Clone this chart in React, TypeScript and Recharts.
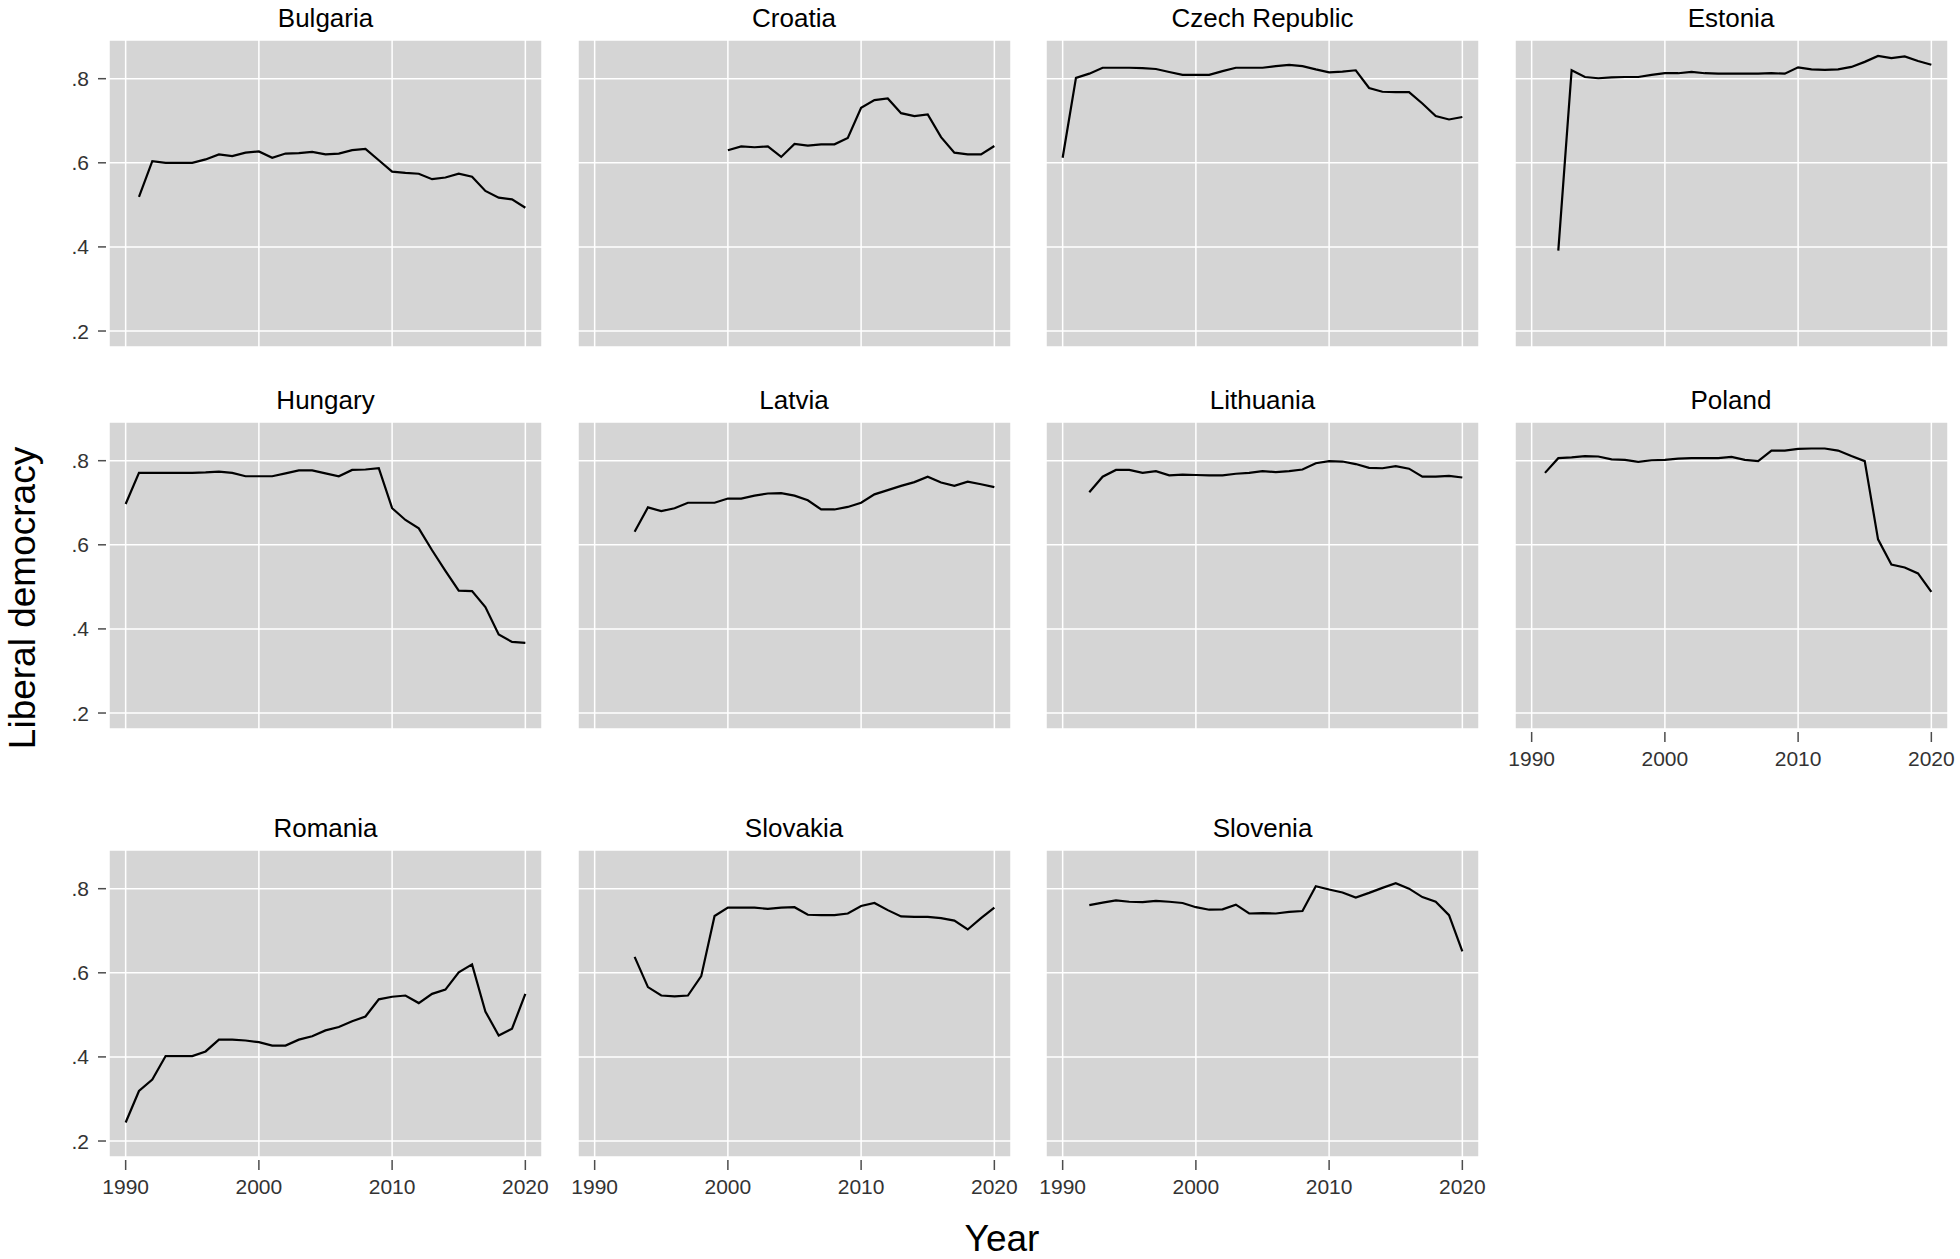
import { CartesianGrid, Line, LineChart, XAxis, YAxis } from "recharts";

// liberal democracy index, one value per year (null = no data)
const years = [
  1990, 1991, 1992, 1993, 1994, 1995, 1996, 1997, 1998, 1999, 2000, 2001, 2002,
  2003, 2004, 2005, 2006, 2007, 2008, 2009, 2010, 2011, 2012, 2013, 2014, 2015,
  2016, 2017, 2018, 2019, 2020,
];

const bulgaria = [
  null, 0.519, 0.604, 0.6, 0.6, 0.6, 0.608, 0.62, 0.616, 0.624,
  0.627, 0.612, 0.622, 0.623, 0.626, 0.62, 0.622, 0.63, 0.633, 0.606,
  0.579, 0.576, 0.574, 0.561, 0.565, 0.574, 0.567, 0.533, 0.517, 0.513,
  0.493,
];
const croatia = [
  null, null, null, null, null, null, null, null, null, null,
  0.63, 0.639, 0.637, 0.639, 0.614, 0.645, 0.641, 0.644, 0.644, 0.659,
  0.731, 0.749, 0.753, 0.718, 0.711, 0.715, 0.661, 0.624, 0.62, 0.62,
  0.64,
];
const czechRepublic = [
  0.612, 0.802, 0.812, 0.826, 0.826, 0.826, 0.825, 0.823, 0.816, 0.809,
  0.809, 0.809, 0.818, 0.826, 0.826, 0.826, 0.83, 0.833, 0.83, 0.822,
  0.815, 0.817, 0.82, 0.778, 0.769, 0.768, 0.768, 0.741, 0.711, 0.703,
  0.709,
];
const estonia = [
  null, null, 0.391, 0.82, 0.804, 0.801, 0.803, 0.804, 0.804, 0.809,
  0.813, 0.813, 0.816, 0.813, 0.812, 0.812, 0.812, 0.812, 0.813, 0.812,
  0.827, 0.822, 0.821, 0.822, 0.828, 0.84, 0.854, 0.849, 0.853, 0.842,
  0.833,
];
const hungary = [
  0.697, 0.771, 0.771, 0.771, 0.771, 0.771, 0.772, 0.774, 0.771, 0.763,
  0.763, 0.763, 0.77, 0.777, 0.777, 0.77, 0.763, 0.778, 0.779, 0.782,
  0.687, 0.659, 0.639, 0.587, 0.538, 0.491, 0.49, 0.452, 0.387, 0.369,
  0.367,
];
const latvia = [
  null, null, null, 0.631, 0.689, 0.68, 0.687, 0.7, 0.7, 0.7,
  0.71, 0.71, 0.717, 0.722, 0.723, 0.717, 0.706, 0.684, 0.684, 0.69,
  0.7, 0.72, 0.73, 0.74, 0.749, 0.762, 0.748, 0.74, 0.75, 0.744,
  0.737,
];
const lithuania = [
  null, null, 0.725, 0.762, 0.778, 0.778, 0.771, 0.775, 0.765, 0.767,
  0.766, 0.765, 0.765, 0.769, 0.771, 0.775, 0.773, 0.775, 0.779, 0.794,
  0.799, 0.798, 0.792, 0.783, 0.782, 0.787, 0.781, 0.762, 0.762, 0.764,
  0.76,
];
const poland = [
  null, 0.771, 0.806, 0.808, 0.811, 0.81, 0.803, 0.802, 0.797, 0.801,
  0.802, 0.805, 0.806, 0.806, 0.806, 0.809, 0.802, 0.799, 0.824, 0.824,
  0.828, 0.829, 0.829, 0.824, 0.811, 0.799, 0.613, 0.553, 0.546, 0.532,
  0.488,
];
const romania = [
  0.244, 0.319, 0.346, 0.402, 0.402, 0.402, 0.413, 0.441, 0.441, 0.439,
  0.435, 0.427, 0.427, 0.441, 0.449, 0.463, 0.471, 0.485, 0.496, 0.537,
  0.543, 0.546, 0.528, 0.55, 0.56, 0.601, 0.62, 0.508, 0.451, 0.467,
  0.55,
];
const slovakia = [
  null, null, null, 0.638, 0.566, 0.546, 0.544, 0.546, 0.592, 0.735,
  0.755, 0.755, 0.755, 0.752, 0.755, 0.756, 0.738, 0.737, 0.737, 0.741,
  0.759, 0.766, 0.749, 0.734, 0.733, 0.733, 0.73, 0.724, 0.703, 0.73,
  0.755,
];
const slovenia = [
  null, null, 0.761, 0.767, 0.772, 0.769, 0.768, 0.771, 0.769, 0.766,
  0.756, 0.75, 0.751, 0.762, 0.741, 0.742, 0.741, 0.745, 0.747, 0.806,
  0.798, 0.791, 0.779, 0.79, 0.802, 0.813, 0.8, 0.78, 0.769, 0.737,
  0.651,
];

const countries = [
  "Bulgaria", "Croatia", "Czech Republic", "Estonia",
  "Hungary", "Latvia", "Lithuania", "Poland",
  "Romania", "Slovakia", "Slovenia",
];
const series = [
  bulgaria, croatia, czechRepublic, estonia,
  hungary, latvia, lithuania, poland,
  romania, slovakia, slovenia,
];

const xTicks = [1990, 2000, 2010, 2020];
const yTicks = [0.2, 0.4, 0.6, 0.8];
const yTickLabels = [".2", ".4", ".6", ".8"];

// layout
const FONT = "'Liberation Sans', Arial, Helvetica, sans-serif";
const PANEL_W = 433;
const PANEL_H = 307;
const AX_W = 80;
const AX_H = 60;
const PAD_R = 30;
const colLeft = [109, 577.5, 1046, 1514.5];
const rowTop = [39.5, 421.7, 850];
const X_DOMAIN = [1988.75, 2021.25];
const Y_DOMAIN = [0.162, 0.892];

function YTick(props: any) {
  const { y, payload, show } = props;
  if (!show) return <g />;
  const label = yTickLabels[yTicks.indexOf(payload.value)];
  return (
    <g>
      <line x1={AX_W - 11} x2={AX_W - 3} y1={y} y2={y} stroke="#4d4d4d" strokeWidth={1.5} />
      <text x={AX_W - 20} y={y} dy="0.36em" textAnchor="end" fontSize={21} fill="#333" fontFamily={FONT}>
        {label}
      </text>
    </g>
  );
}

function XTick(props: any) {
  const { x, payload, show } = props;
  if (!show) return <g />;
  return (
    <g>
      <line x1={x} x2={x} y1={PANEL_H + 3} y2={PANEL_H + 13} stroke="#4d4d4d" strokeWidth={1.5} />
      <text x={x} y={PANEL_H + 37} textAnchor="middle" fontSize={21} fill="#333" fontFamily={FONT}>
        {payload.value}
      </text>
    </g>
  );
}

function Panel({ idx }: { idx: number }) {
  const row = Math.floor(idx / 4);
  const col = idx % 4;
  const values = series[idx];
  const data = years.map((year, i) => ({ year, value: values[i] }));
  const showY = col === 0;
  const showX = row === 2 || idx === 7;
  return (
    <div style={{ position: "absolute", left: colLeft[col] - AX_W, top: rowTop[row] }}>
      <LineChart
        width={AX_W + PANEL_W + PAD_R}
        height={PANEL_H + AX_H}
        data={data}
        margin={{ top: 0, right: PAD_R, bottom: 0, left: 0 }}
      >
        <CartesianGrid fill="#d5d5d5" stroke="#ffffff" strokeWidth={1.5} />
        <XAxis
          type="number"
          dataKey="year"
          domain={X_DOMAIN}
          ticks={xTicks}
          interval={0}
          allowDataOverflow
          height={AX_H}
          axisLine={false}
          tickLine={false}
          tick={<XTick show={showX} />}
        />
        <YAxis
          type="number"
          domain={Y_DOMAIN}
          ticks={yTicks}
          interval={0}
          allowDataOverflow
          width={AX_W}
          axisLine={false}
          tickLine={false}
          tick={<YTick show={showY} />}
        />
        <Line
          type="linear"
          dataKey="value"
          stroke="#000000"
          strokeWidth={2.2}
          dot={false}
          activeDot={false}
          connectNulls={false}
          isAnimationActive={false}
        />
      </LineChart>
    </div>
  );
}

function App() {
  return (
    <div
      style={{
        position: "absolute",
        left: 0,
        top: 0,
        width: 1960,
        height: 1259,
        background: "#ffffff",
        overflow: "hidden",
      }}
    >
      {countries.map((c, i) => (
        <Panel key={c} idx={i} />
      ))}
      <svg
        width={1960}
        height={1259}
        style={{ position: "absolute", left: 0, top: 0, pointerEvents: "none" }}
      >
        {countries.map((c, i) => {
          const row = Math.floor(i / 4);
          const col = i % 4;
          return (
            <text
              key={c}
              x={colLeft[col] + PANEL_W / 2}
              y={rowTop[row] - 13}
              textAnchor="middle"
              fontSize={26}
              fill="#000"
              fontFamily={FONT}
            >
              {c}
            </text>
          );
        })}
        <text
          x={0}
          y={0}
          transform="translate(35, 598) rotate(-90)"
          textAnchor="middle"
          fontSize={37}
          fill="#000"
          fontFamily={FONT}
        >
          Liberal democracy
        </text>
        <text x={1002} y={1251} textAnchor="middle" fontSize={37} fill="#000" fontFamily={FONT}>
          Year
        </text>
      </svg>
    </div>
  );
}

export default App;
